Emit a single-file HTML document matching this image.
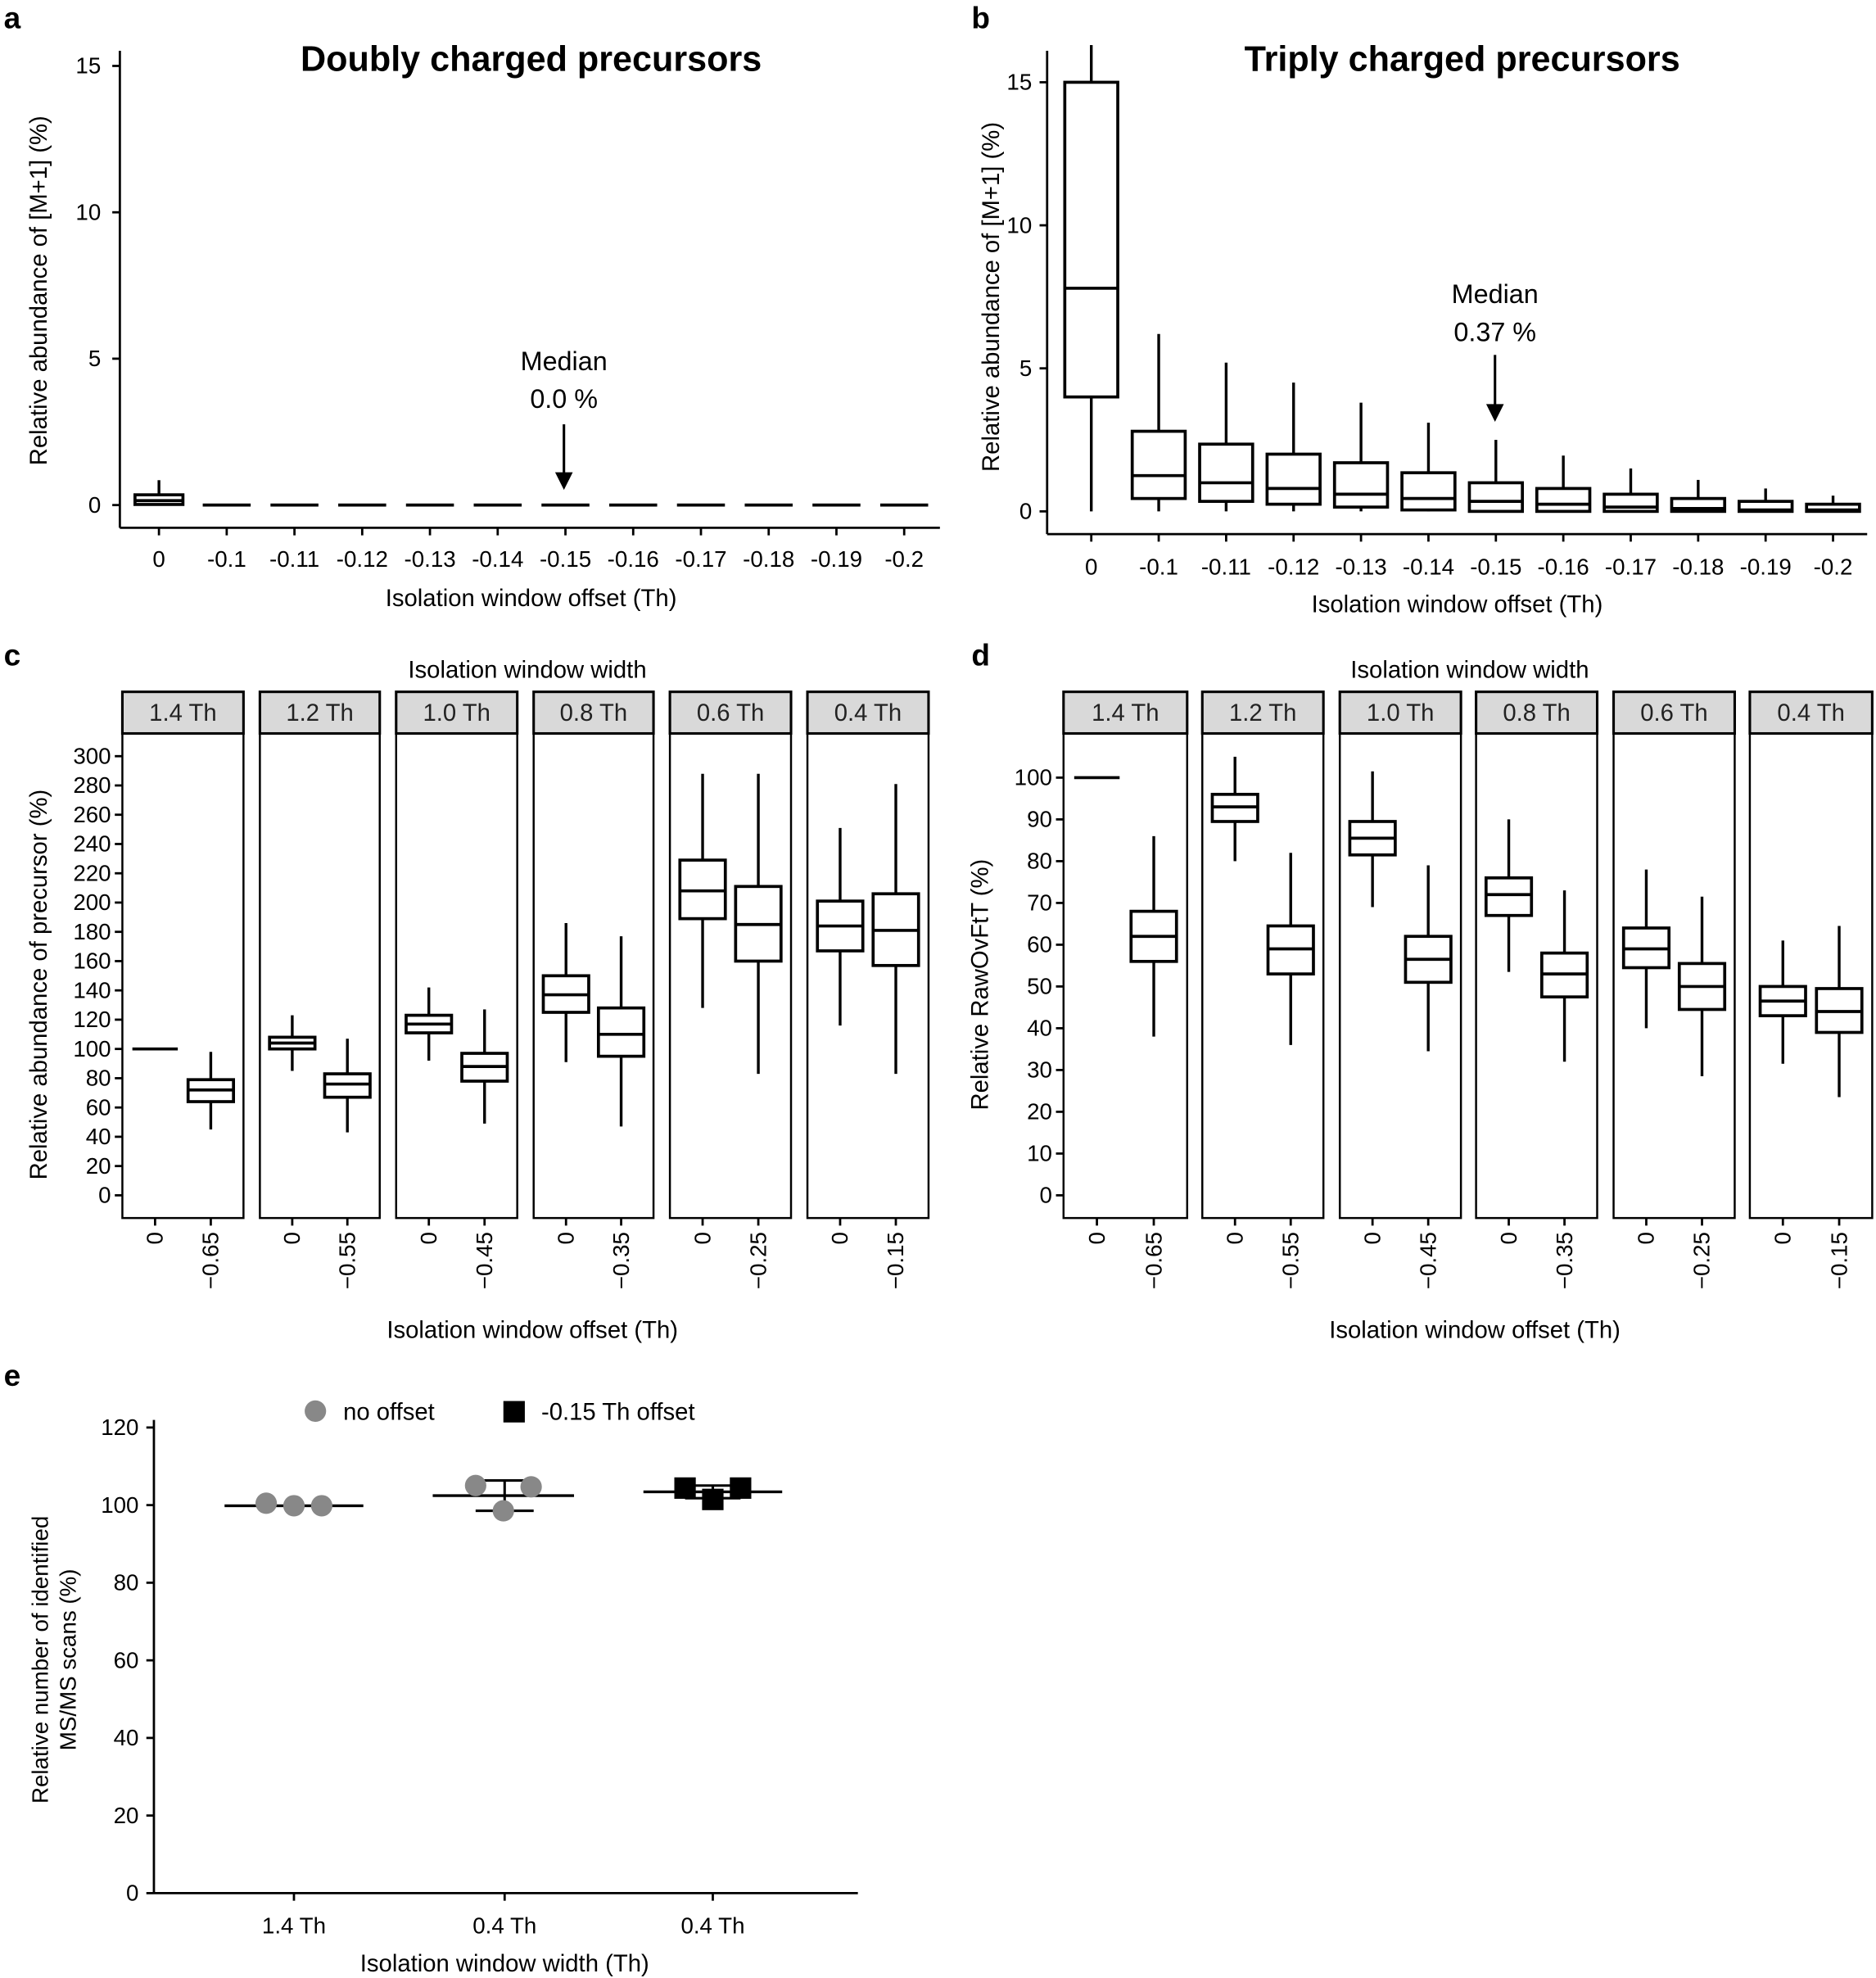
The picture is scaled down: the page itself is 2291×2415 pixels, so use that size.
<!DOCTYPE html>
<html><head><meta charset="utf-8"><style>
html,body{margin:0;padding:0;background:#fff;}
svg{display:block;font-family:"Liberation Sans",Arial,sans-serif;}
</style></head><body>
<svg id="s" width="2291" height="2415" viewBox="0 0 1487 1567" xmlns="http://www.w3.org/2000/svg"></svg>
<script>
const S=document.getElementById('s');let h='';
function L(x1,y1,x2,y2,w){h+=`<line x1="${x1}" y1="${y1}" x2="${x2}" y2="${y2}" stroke="#000" stroke-width="${w||1.8}"/>`;}
function T(x,y,t,o){o=o||{};h+=`<text x="${x}" y="${y}" font-size="${o.s||18}" text-anchor="${o.a||'middle'}" ${o.b?'font-weight="bold"':''} ${o.r?`transform="rotate(-90 ${x} ${y})"`:''} fill="${o.c||'#000'}">${t}</text>`;}
function R(x,y,w,hh,f,sw){h+=`<rect x="${x}" y="${y}" width="${w}" height="${hh}" fill="${f||'none'}" stroke="#000" stroke-width="${sw||1.8}"/>`;}
function box(cx,w,Y,med,q1,q3,lo,hi){L(cx,Y(hi),cx,Y(q3),2.2);L(cx,Y(q1),cx,Y(lo),2.2);R(cx-w/2,Y(q3),w,Y(q1)-Y(q3),'#fff',2.4);L(cx-w/2,Y(med),cx+w/2,Y(med),2.4);}
function arrow(x,y1,y2){L(x,y1,x,y2-12,2);h+=`<polygon points="${x-7},${y2-14} ${x+7},${y2-14} ${x},${y2}" fill="#000"/>`;}
T(3,22,'a',{s:24,b:1,a:'start'});T(770,22,'b',{s:24,b:1,a:'start'});T(3,527,'c',{s:24,b:1,a:'start'});T(770,527,'d',{s:24,b:1,a:'start'});T(3,1098,'e',{s:24,b:1,a:'start'});
{const Y=v=>400-v*23.2;L(95,40,95,418);L(95,418,745,418);
[0,5,10,15].forEach(v=>{L(89,Y(v),95,Y(v));T(80,Y(v)+6,v,{a:'end'});});
const labs=['0','-0.1','-0.11','-0.12','-0.13','-0.14','-0.15','-0.16','-0.17','-0.18','-0.19','-0.2'];
labs.forEach((l,i)=>{const x=126+i*53.7;L(x,418,x,424);T(x,449,l);if(i>0)L(x-19,400,x+19,400,2.4);});
box(126,38,Y,0.15,0.02,0.35,0,0.85);
T(421,56,'Doubly charged precursors',{s:28,b:1});T(421,480,'Isolation window offset (Th)',{s:19});T(37,230,'Relative abundance of [M+1] (%)',{s:19,r:1});
T(447,293,'Median',{s:21});T(447,323,'0.0 %',{s:21});arrow(447,336,388);}
{const Y=v=>405-v*22.67;L(830,40,830,423);L(830,423,1480,423);
[0,5,10,15].forEach(v=>{L(824,Y(v),830,Y(v));T(818,Y(v)+6,v,{a:'end'});});
const labs=['0','-0.1','-0.11','-0.12','-0.13','-0.14','-0.15','-0.16','-0.17','-0.18','-0.19','-0.2'];
const d=[[7.8,4,15,0,16.3],[1.25,.45,2.8,0,6.2],[1,.35,2.35,0,5.2],[.8,.25,2,0,4.5],[.6,.15,1.7,0,3.8],[.45,.05,1.35,0,3.1],[.35,0,1,0,2.5],[.25,0,.8,0,1.95],[.15,0,.6,0,1.5],[.1,0,.45,0,1.1],[.05,0,.35,0,.8],[.05,0,.25,0,.55]];
labs.forEach((l,i)=>{const x=865+i*53.45;L(x,423,x,429);T(x,455,l);box(x,42,Y,...d[i]);});
T(1159,56,'Triply charged precursors',{s:28,b:1});T(1155,485,'Isolation window offset (Th)',{s:19});T(792,235,'Relative abundance of [M+1] (%)',{s:19,r:1});
T(1185,240,'Median',{s:21});T(1185,270,'0.37 %',{s:21});arrow(1185,281,334);}
function facet(px,Yf,ticks,data,offs,ylab,ylx,xlc){
 const names=['1.4 Th','1.2 Th','1.0 Th','0.8 Th','0.6 Th','0.4 Th'];
 px.forEach((p,i)=>{const [a,b]=p;R(a,548,b-a,33,'#d9d9d9',2);T((a+b)/2,571,names[i],{s:19,c:'#222'});R(a,581,b-a,384,'none',1.6);
  const c0=a+(b-a)*0.27,c1=a+(b-a)*0.73;L(c0,965,c0,971);L(c1,965,c1,971);
  T(c0+6,976,'0',{s:18,a:'end',r:1});T(c1+6,976,'−'+offs[i],{s:18,a:'end',r:1});
  const dd=data[i];if(dd[0]==null)L(c0-18,Yf(100),c0+18,Yf(100),2.4);else box(c0,36,Yf,...dd[0]);box(c1,36,Yf,...dd[1]);});
 const x0=px[0][0];ticks.forEach(v=>{L(x0-6,Yf(v),x0,Yf(v));T(x0-9,Yf(v)+6,v,{a:'end'});});
 T(xlc,537,'Isolation window width',{s:19});T(xlc+4,1060,'Isolation window offset (Th)',{s:19});T(ylx,780,ylab,{s:19,r:1});}
{const Y=v=>947-v*1.16;const t=[];for(let v=0;v<=300;v+=20)t.push(v);
facet([[97,193],[206,301],[314,410],[423,518],[531,627],[640,736]],Y,t,
[[null,[72,64,79,45,98]],[[104,100,108,85,123],[76,67,83,43,107]],[[117,111,123,92,142],[88,78,97,49,127]],[[137,125,150,91,186],[110,95,128,47,177]],[[208,189,229,128,288],[185,160,211,83,288]],[[184,167,201,116,251],[181,157,206,83,281]]],
['0.65','0.55','0.45','0.35','0.25','0.15'],'Relative abundance of precursor (%)',37,418);}
{const Y=v=>947-v*3.31;const t=[];for(let v=0;v<=100;v+=10)t.push(v);
facet([[843,941],[953,1049],[1062,1158],[1170,1266],[1279,1375],[1387,1484]],Y,t,
[[null,[62,56,68,38,86]],[[93,89.5,96,80,105],[59,53,64.5,36,82]],[[85.5,81.5,89.5,69,101.5],[56.5,51,62,34.5,79]],[[72,67,76,53.5,90],[53,47.5,58,32,73]],[[59,54.5,64,40,78],[50,44.5,55.5,28.5,71.5]],[[46.5,43,50,31.5,61],[44,39,49.5,23.5,64.5]]],
['0.65','0.55','0.45','0.35','0.25','0.15'],'Relative RawOvFtT (%)',783,1165);}
{const Y=v=>1500-v*3.075;L(122,1125,122,1500);L(122,1500,680,1500);
[0,20,40,60,80,100,120].forEach(v=>{L(116,Y(v),122,Y(v));T(110,Y(v)+6,v,{a:'end'});});
[[233,'1.4 Th'],[400,'0.4 Th'],[565,'0.4 Th']].forEach(([x,l])=>{L(x,1500,x,1506);T(x,1532,l);});
L(178,1193,288,1193,2.2);
L(343,1185,455,1185,2.2);L(400,1173,400,1197,2);L(377,1173,423,1173,2);L(377,1197,423,1197,2);
L(510,1182,620,1182,2.2);L(565,1177,565,1187,2);L(543,1177,587,1177,2);L(543,1187,587,1187,2);
[[211,1191],[233,1193],[255,1193],[377,1177],[399,1197],[421,1178]].forEach(([x,y])=>h+=`<circle cx="${x}" cy="${y}" r="8.5" fill="#888"/>`);
[[543,1179],[565,1188],[587,1179]].forEach(([x,y])=>h+=`<rect x="${x-8.5}" y="${y-8.5}" width="17" height="17" fill="#000"/>`);
h+=`<circle cx="250" cy="1118" r="8.5" fill="#888"/><rect x="399" y="1110" width="17" height="17" fill="#000"/>`;
T(272,1125,'no offset',{s:19,a:'start'});T(429,1125,'-0.15 Th offset',{s:19,a:'start'});
T(400,1562,'Isolation window width (Th)',{s:19});
T(38,1315,'Relative number of identified',{s:18,r:1});T(60,1315,'MS/MS scans  (%)',{s:18,r:1});}
S.innerHTML=h;
</script>
</body></html>
